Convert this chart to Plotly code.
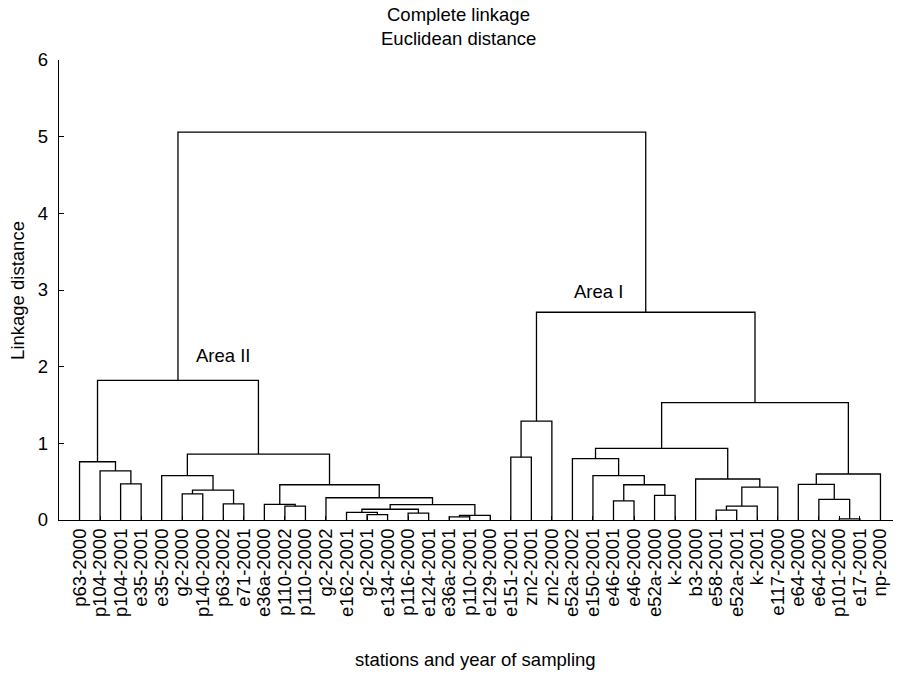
import plotly.graph_objects as go

# ---- data ----
leaf_labels = [
    "p63-2000", "p104-2000", "p104-2001", "e35-2001", "e35-2000", "g2-2000",
    "p140-2000", "p63-2002", "e71-2001", "e36a-2000", "p110-2002", "p110-2000",
    "g2-2002", "e162-2001", "g2-2001", "e134-2000", "p116-2000", "e124-2001",
    "e36a-2001", "p110-2001", "e129-2000", "e151-2001", "zn2-2001", "zn2-2000",
    "e52a-2002", "e150-2001", "e46-2001", "e46-2000", "e52a-2000", "k-2000",
    "b3-2000", "e58-2001", "e52a-2001", "k-2001", "e117-2000", "e64-2000",
    "e64-2002", "p101-2000", "e17-2001", "np-2000",
]

# merges (scipy-like): node id = 40 + position in list
merge_left = [37, 18, 41, 14, 13, 16, 44, 46, 12, 10, 9, 50, 5, 7, 52, 4, 55, 2, 1, 0, 59,
              21, 61, 26, 28, 63, 25, 24, 31, 68, 69, 30, 67, 36, 35, 74, 72, 62, 60]
merge_right = [38, 19, 20, 15, 43, 17, 45, 42, 47, 11, 49, 48, 6, 8, 53, 54, 51, 3, 57, 58, 56,
               22, 23, 27, 29, 64, 65, 66, 32, 33, 34, 70, 71, 40, 73, 39, 75, 76, 77]
merge_height = [0.015, 0.04, 0.06, 0.07, 0.10, 0.09, 0.14, 0.20, 0.29, 0.18, 0.205, 0.46,
                0.34, 0.21, 0.39, 0.58, 0.86, 0.47, 0.64, 0.76, 1.82,
                0.82, 1.29, 0.25, 0.32, 0.46, 0.58, 0.80, 0.13, 0.18, 0.43, 0.535, 0.935,
                0.27, 0.465, 0.60, 1.53, 2.71, 5.06]

y_ticks = [0, 1, 2, 3, 4, 5, 6]
area_labels = ["Area II", "Area I"]
title_lines = ["Complete linkage", "Euclidean distance"]

# ---- build dendrogram segments ----
n = len(leaf_labels)
pos = {i: float(i) for i in range(n)}
hgt = {i: 0.0 for i in range(n)}
xs, ys = [], []
for k, (a, b, h) in enumerate(zip(merge_left, merge_right, merge_height)):
    node = n + k
    xa, xb = pos[a], pos[b]
    xs += [xa, xa, xb, xb, None]
    ys += [hgt[a], h, h, hgt[b], None]
    pos[node] = (xa + xb) / 2
    hgt[node] = h

FONT = "Liberation Sans, Arial, sans-serif"
FS = 18.5
TOP = 52      # top margin (px)
PH = 460      # plot height (px)

fig = go.Figure()
fig.add_trace(go.Scatter(x=xs, y=ys, mode="lines",
                         line=dict(color="black", width=1.3),
                         hoverinfo="skip", showlegend=False))

# area labels placed near their cluster nodes
node_area2 = n + 20
node_area1 = n + 37
fig.add_annotation(x=pos[node_area2] + 2.24, y=hgt[node_area2] + 0.33, text=area_labels[0],
                   showarrow=False, font=dict(family=FONT, size=FS, color="black"))
fig.add_annotation(x=pos[node_area1] - 2.28, y=hgt[node_area1] + 0.27, text=area_labels[1],
                   showarrow=False, font=dict(family=FONT, size=FS, color="black"))

# titles as annotations (two lines)
for line, py in zip(title_lines, [6.5, 31.0]):
    fig.add_annotation(xref="paper", yref="paper", x=0.474, y=1 + (TOP - py) / PH,
                       text=line, showarrow=False, yanchor="middle",
                       font=dict(family=FONT, size=FS, color="black"))
fig.add_annotation(xref="paper", yref="paper", x=0.495, y=-0.304,
                   text="stations and year of sampling", showarrow=False,
                   yanchor="middle", font=dict(family=FONT, size=FS, color="black"))
fig.add_annotation(xref="paper", yref="paper", x=-0.05, y=0.5, xshift=0,
                   text="Linkage distance", textangle=-90, showarrow=False,
                   xanchor="center", font=dict(family=FONT, size=FS, color="black"))

fig.update_layout(
    width=901, height=676,
    margin=dict(l=51, r=8, t=TOP, b=164, autoexpand=False),
    paper_bgcolor="white", plot_bgcolor="white",
    font=dict(family=FONT, size=FS, color="black"),
    showlegend=False,
)
fig.update_xaxes(
    range=[-1, 40], tickmode="array", tickvals=list(range(n)), ticktext=leaf_labels,
    tickangle=-90, ticks="inside", ticklen=4, tickwidth=1.3, tickcolor="black",
    showline=True, linecolor="black", linewidth=1.3, showgrid=False, zeroline=False,
    tickfont=dict(family=FONT, size=FS, color="black"), automargin=False,
)
fig.update_yaxes(
    range=[0, 6], tickmode="array", tickvals=y_ticks, ticktext=[str(v) for v in y_ticks],
    ticks="inside", ticklen=5, tickwidth=1.3, tickcolor="black",
    showline=True, linecolor="black", linewidth=1.3, showgrid=False, zeroline=False,
    tickfont=dict(family=FONT, size=FS, color="black"), ticklabelstandoff=6,
    automargin=False,
)

fig.write_html("out.html")
